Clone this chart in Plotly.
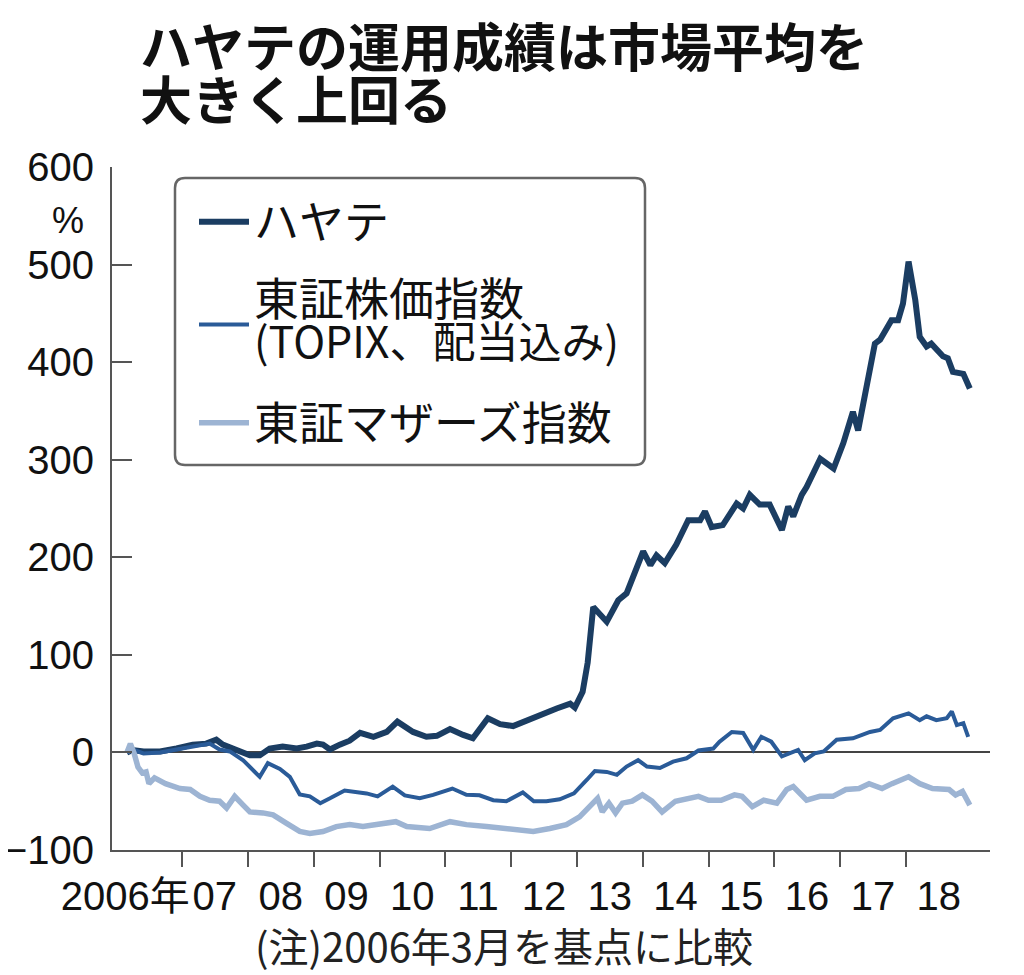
import plotly.graph_objects as go

# ---------------- data ----------------
hayate_dates = [
    "2006-03-01", "2006-04-01", "2006-06-01", "2006-09-01", "2006-12-01", "2007-03-01",
    "2007-05-15", "2007-07-10", "2007-08-15", "2007-11-01", "2008-01-12", "2008-03-07",
    "2008-05-01", "2008-07-12", "2008-09-28", "2008-11-22", "2009-01-18", "2009-02-21",
    "2009-04-01", "2009-05-25", "2009-07-19", "2009-09-15", "2009-11-28", "2010-02-10",
    "2010-04-10", "2010-07-06", "2010-09-18", "2010-11-15", "2011-01-27", "2011-04-10",
    "2011-06-03", "2011-08-25", "2011-11-01", "2012-01-12", "2012-03-27", "2012-06-18",
    "2012-09-10", "2012-11-24", "2012-12-20", "2013-02-01", "2013-03-01", "2013-04-01",
    "2013-06-15", "2013-08-18", "2013-10-03", "2014-01-03", "2014-02-12", "2014-03-18",
    "2014-05-03", "2014-07-06", "2014-09-10", "2014-11-15", "2014-12-12", "2015-01-18",
    "2015-03-21", "2015-06-06", "2015-07-12", "2015-08-18", "2015-10-12", "2015-12-06",
    "2016-02-12", "2016-03-18", "2016-04-15", "2016-06-01", "2016-06-28", "2016-09-12",
    "2016-11-25", "2017-01-18", "2017-03-12", "2017-04-10", "2017-05-28", "2017-07-12",
    "2017-08-10", "2017-10-12", "2017-11-18", "2017-12-15", "2018-01-15", "2018-02-21",
    "2018-03-18", "2018-04-25", "2018-05-21", "2018-07-25", "2018-08-21", "2018-09-18",
    "2018-11-15", "2018-12-21",
]
hayate_values = [
    0, 2.5, 1, 1, 4, 8,
    9, 13, 8, 3, -3, -3,
    4, 6, 4, 6, 9, 8,
    3, 8, 12, 20, 16, 21,
    31.5, 21, 16, 17, 24, 18,
    14.5, 35, 29, 27, 33, 39,
    45, 50, 46, 62, 92, 149,
    134, 156, 163, 206, 192, 202,
    194, 213, 238, 238, 247, 231,
    233, 255, 250, 264, 254, 254,
    228, 252, 242, 264, 272, 301,
    291, 317, 349, 330, 375, 419,
    423, 443, 443, 460, 503, 464,
    426, 416, 419, 406, 404, 390,
    388, 373,
]

topix_dates = [
    "2006-03-01", "2006-04-01", "2006-06-01", "2006-09-01", "2006-12-01", "2007-03-01",
    "2007-06-03", "2007-07-28", "2007-09-23", "2007-12-06", "2008-02-01", "2008-03-07",
    "2008-04-21", "2008-06-27", "2008-08-21", "2008-10-15", "2008-12-10", "2009-02-06",
    "2009-04-01", "2009-06-21", "2009-10-21", "2009-12-21", "2010-03-15", "2010-05-21",
    "2010-08-12", "2010-10-25", "2011-02-09", "2011-04-28", "2011-07-10", "2011-09-24",
    "2011-12-06", "2012-03-06", "2012-05-06", "2012-07-15", "2012-09-27", "2012-12-15",
    "2013-02-25", "2013-04-10", "2013-06-15", "2013-08-10", "2013-10-03", "2013-12-06",
    "2014-01-24", "2014-04-06", "2014-06-18", "2014-09-01", "2014-11-06", "2015-01-27",
    "2015-03-03", "2015-05-10", "2015-07-12", "2015-09-06", "2015-10-21", "2015-12-15",
    "2016-02-12", "2016-03-27", "2016-05-12", "2016-06-18", "2016-08-12", "2016-10-01",
    "2016-12-12", "2017-03-12", "2017-06-15", "2017-08-10", "2017-10-21", "2018-01-15",
    "2018-03-18", "2018-04-25", "2018-06-18", "2018-08-15", "2018-09-12", "2018-10-10",
    "2018-11-15", "2018-12-12",
]
topix_values = [
    0, 3, -1, 0, 3, 6,
    9, 3, 1, -8, -18, -25,
    -11, -17, -25, -43, -45, -52,
    -47, -39, -42, -45, -35, -44,
    -47, -43.5, -37, -43.5, -44, -49,
    -50, -41, -50, -50, -48, -42,
    -28, -19, -20, -23, -14.5, -8,
    -14.5, -16, -9.4, -6, 2, 4,
    11, 21, 20, 2.6, 16, 11,
    -4, -1, 2.6, -8, -1, 1,
    13, 14.5, 21, 23, 35, 40,
    33, 37, 33, 35, 42, 28,
    30, 16,
]

mothers_dates = [
    "2006-03-01", "2006-03-20", "2006-04-10", "2006-05-01", "2006-05-25", "2006-06-15",
    "2006-07-01", "2006-08-01", "2006-10-01", "2006-12-20", "2007-02-15", "2007-04-10",
    "2007-06-03", "2007-07-28", "2007-09-05", "2007-10-20", "2007-12-06", "2008-01-12",
    "2008-03-25", "2008-05-20", "2008-08-01", "2008-10-15", "2008-12-10", "2009-02-21",
    "2009-05-06", "2009-07-19", "2009-10-01", "2009-12-15", "2010-04-01", "2010-06-01",
    "2010-10-06", "2011-01-27", "2011-04-28", "2011-08-18", "2011-12-06", "2012-05-03",
    "2012-08-03", "2012-11-03", "2013-01-15", "2013-03-10", "2013-04-25", "2013-05-21",
    "2013-06-27", "2013-08-03", "2013-09-10", "2013-11-03", "2013-12-30", "2014-02-21",
    "2014-04-18", "2014-07-01", "2014-09-15", "2014-11-06", "2015-01-01", "2015-03-12",
    "2015-05-25", "2015-07-06", "2015-09-01", "2015-11-03", "2016-01-15", "2016-03-10",
    "2016-04-15", "2016-06-28", "2016-09-10", "2016-11-21", "2017-02-01", "2017-04-15",
    "2017-06-10", "2017-08-21", "2017-10-15", "2018-01-15", "2018-03-18", "2018-05-28",
    "2018-08-28", "2018-10-03", "2018-11-10", "2018-12-21",
]
mothers_values = [
    0, 9, -1, -15, -21, -20,
    -32, -26, -32, -37, -38, -45,
    -49, -50, -57, -45, -54, -61,
    -62, -64, -72.5, -81, -83, -81,
    -76, -74, -76, -74, -71, -76,
    -78, -71, -74, -76, -78, -81,
    -78, -74, -66, -55.5, -47, -61,
    -52, -62, -52, -50, -43.5, -50,
    -61, -50, -47, -45, -49, -49,
    -43.5, -45, -55.5, -49, -52, -38,
    -35, -49, -45, -45, -38, -37,
    -32, -37, -32, -25, -32, -37,
    -38, -43.5, -40, -54,
]

series_names = ["ハヤテ", ["東証株価指数", "(TOPIX、配当込み)"], "東証マザーズ指数"]

year_tick_dates = [f"{y}-01-01" for y in range(2007, 2019)]
year_label_dates = ["2006-02-20"] + [f"{y}-07-01" for y in range(2007, 2019)]
year_label_text = ["2006年"] + [f"{y % 100:02d}" for y in range(2007, 2019)]

y_ticks = [-100, 0, 100, 200, 300, 400, 500, 600]

title_lines = ["ハヤテの運用成績は市場平均を", "大きく上回る"]
note_text = "(注)2006年3月を基点に比較"

# ---------------- layout helpers ----------------
# the page body adds an 8px offset, so the figure is a bit smaller than the window
OFF = 8
W, H = 1016, 967
ML, MR, MT, MB = 104, 34, 159, 125
PW, PH = W - ML - MR, H - MT - MB


def px(x):  # screen pixel -> paper x
    return (x - OFF - ML) / PW


def py(y):  # screen pixel -> paper y
    return (H - MB - (y - OFF)) / PH


JP = "Noto Sans CJK JP"
NUM = "Liberation Sans, Arial, " + JP
LEG_SIZE = 45


def sized(s, size):
    return f"<span style='font-size:{size}px'>{s}</span>"


topix_label = sized(series_names[1][0], LEG_SIZE) + "<br>" + sized(series_names[1][1], 43)

fig = go.Figure()
fig.add_trace(go.Scatter(x=hayate_dates, y=hayate_values, mode="lines", name=series_names[0],
                         legend="legend", line=dict(color="#1b3d62", width=6)))
fig.add_trace(go.Scatter(x=topix_dates, y=topix_values, mode="lines", name=topix_label,
                         legend="legend2", line=dict(color="#2a5b98", width=4)))
fig.add_trace(go.Scatter(x=mothers_dates, y=mothers_values, mode="lines", name=series_names[2],
                         legend="legend3", line=dict(color="#9db4d3", width=5.5)))

# rounded legend frame
x0, x1, y0, y1, r = 175, 645, 178, 465, 10
path = (f"M{px(x0 + r)},{py(y0)} L{px(x1 - r)},{py(y0)} Q{px(x1)},{py(y0)} {px(x1)},{py(y0 + r)} "
        f"L{px(x1)},{py(y1 - r)} Q{px(x1)},{py(y1)} {px(x1 - r)},{py(y1)} "
        f"L{px(x0 + r)},{py(y1)} Q{px(x0)},{py(y1)} {px(x0)},{py(y1 - r)} "
        f"L{px(x0)},{py(y0 + r)} Q{px(x0)},{py(y0)} {px(x0 + r)},{py(y0)} Z")
fig.add_shape(type="path", path=path, xref="paper", yref="paper",
              line=dict(color="#666666", width=2.5), fillcolor="white", layer="below")

for text, ypix in zip(title_lines, [44, 97]):
    fig.add_annotation(text=f"<b>{text}</b>", x=px(138), y=py(ypix), xref="paper", yref="paper",
                       xanchor="left", yanchor="middle", showarrow=False,
                       font=dict(family=JP, size=52, color="#111111"))
fig.add_annotation(text="%", x=px(68), y=py(220), xref="paper", yref="paper",
                   xanchor="center", yanchor="middle", showarrow=False,
                   font=dict(family=NUM, size=36, color="#111111"))
fig.add_annotation(text=note_text, x=px(504), y=py(945), xref="paper", yref="paper",
                   xanchor="center", yanchor="middle", showarrow=False,
                   font=dict(family=JP, size=40, color="#222222"))

legend_common = dict(xanchor="left", yanchor="middle", bgcolor="rgba(0,0,0,0)", borderwidth=0,
                     itemwidth=50)
fig.update_layout(
    width=W, height=H,
    margin=dict(l=ML, r=MR, t=MT, b=MB, pad=0, autoexpand=False),
    paper_bgcolor="white", plot_bgcolor="white",
    showlegend=True,
    legend=dict(x=px(194), y=py(222), font=dict(family=JP, size=LEG_SIZE, color="#111111"),
                **legend_common),
    legend2=dict(x=px(194), y=py(325), font=dict(family=JP, size=32, color="#111111"),
                 **legend_common),
    legend3=dict(x=px(194), y=py(423), font=dict(family=JP, size=LEG_SIZE, color="#111111"),
                 **legend_common),
    xaxis=dict(type="date", range=["2005-12-08", "2019-04-12"], automargin=False,
               tickmode="array", tickvals=year_label_dates, ticktext=year_label_text,
               ticks="", ticklabelstandoff=10,
               tickfont=dict(family=NUM, size=40, color="#111111"),
               minor=dict(tickmode="array", tickvals=year_tick_dates, ticks="outside",
                          ticklen=15, tickwidth=2, tickcolor="#555555", showgrid=False),
               showline=True, linecolor="#555555", linewidth=2, showgrid=False, zeroline=False),
    yaxis=dict(range=[-100, 600], tickmode="array", tickvals=y_ticks, automargin=False,
               ticks="inside", ticklen=20, tickwidth=2, tickcolor="#555555",
               showline=True, linecolor="#555555", linewidth=2, showgrid=False,
               zeroline=True, zerolinecolor="#444444", zerolinewidth=2,
               ticklabelstandoff=8,
               tickfont=dict(family=NUM, size=40, color="#111111")),
)

fig.write_html("out.html")
